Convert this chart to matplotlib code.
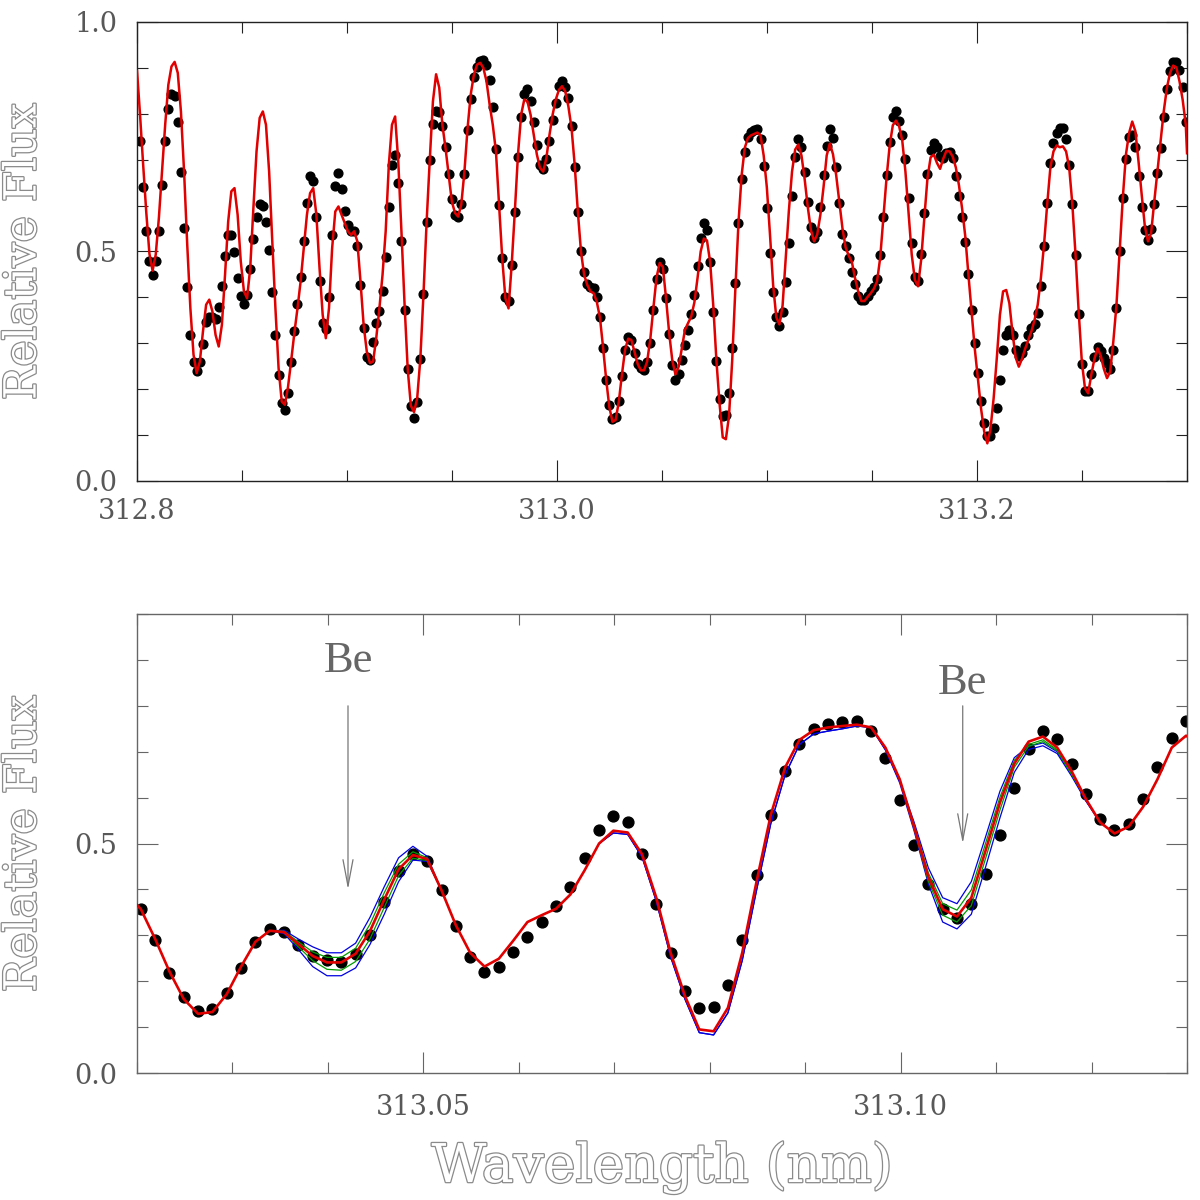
import matplotlib
matplotlib.use("Agg")
import matplotlib.pyplot as plt
import matplotlib.patheffects as pe
from matplotlib.ticker import MultipleLocator, FixedLocator

# observed spectrum (black dots), wavelength in nm
wave = [
    312.8014, 312.8029, 312.8044, 312.8059, 312.8074, 312.8089, 312.8104, 312.8119, 312.8134, 312.8149,
    312.8164, 312.8179, 312.8194, 312.8209, 312.8224, 312.8239, 312.8254, 312.8269, 312.8284, 312.8299,
    312.8314, 312.8329, 312.8344, 312.8359, 312.8374, 312.8389, 312.8404, 312.8419, 312.8434, 312.8449,
    312.8464, 312.8479, 312.8494, 312.8509, 312.8524, 312.8539, 312.8554, 312.8569, 312.8584, 312.8599,
    312.8614, 312.8629, 312.8644, 312.8659, 312.8674, 312.8689, 312.8704, 312.8719, 312.8734, 312.8749,
    312.8764, 312.8779, 312.8794, 312.8809, 312.8824, 312.8839, 312.8854, 312.8869, 312.8884, 312.8899,
    312.8914, 312.8929, 312.8944, 312.8959, 312.8974, 312.8989, 312.9004, 312.9019, 312.9034, 312.9049,
    312.9064, 312.9079, 312.9094, 312.9109, 312.9124, 312.9139, 312.9154, 312.9169, 312.9184, 312.9199,
    312.9214, 312.9229, 312.9244, 312.9259, 312.9274, 312.9289, 312.9304, 312.9319, 312.9334, 312.9349,
    312.9364, 312.9379, 312.9394, 312.9409, 312.9424, 312.9439, 312.9454, 312.9469, 312.9484, 312.9499,
    312.9514, 312.9529, 312.9544, 312.9559, 312.9574, 312.9589, 312.9604, 312.9619, 312.9634, 312.9649,
    312.9664, 312.9679, 312.9694, 312.9709, 312.9724, 312.9739, 312.9754, 312.9769, 312.9784, 312.9799,
    312.9814, 312.9829, 312.9844, 312.9859, 312.9874, 312.9889, 312.9904, 312.9919, 312.9934, 312.9949,
    312.9964, 312.9979, 312.9994, 313.0009, 313.0024, 313.0039, 313.0054, 313.0069, 313.0084, 313.0099,
    313.0114, 313.0129, 313.0144, 313.0159, 313.0174, 313.0189, 313.0204, 313.0219, 313.0234, 313.0249,
    313.0264, 313.0279, 313.0294, 313.0309, 313.0324, 313.0339, 313.0354, 313.0369, 313.0384, 313.0399,
    313.0414, 313.0429, 313.0444, 313.0459, 313.0474, 313.0489, 313.0504, 313.0519, 313.0534, 313.0549,
    313.0564, 313.0579, 313.0594, 313.0609, 313.0624, 313.0639, 313.0654, 313.0669, 313.0684, 313.0699,
    313.0714, 313.0729, 313.0744, 313.0759, 313.0774, 313.0789, 313.0804, 313.0819, 313.0834, 313.0849,
    313.0864, 313.0879, 313.0894, 313.0909, 313.0924, 313.0939, 313.0954, 313.0969, 313.0984, 313.0999,
    313.1014, 313.1029, 313.1044, 313.1059, 313.1074, 313.1089, 313.1104, 313.1119, 313.1134, 313.1149,
    313.1164, 313.1179, 313.1194, 313.1209, 313.1224, 313.1239, 313.1254, 313.1269, 313.1284, 313.1299,
    313.1314, 313.1329, 313.1344, 313.1359, 313.1374, 313.1389, 313.1404, 313.1419, 313.1434, 313.1449,
    313.1464, 313.1479, 313.1494, 313.1509, 313.1524, 313.1539, 313.1554, 313.1569, 313.1584, 313.1599,
    313.1614, 313.1629, 313.1644, 313.1659, 313.1674, 313.1689, 313.1704, 313.1719, 313.1734, 313.1749,
    313.1764, 313.1779, 313.1794, 313.1809, 313.1824, 313.1839, 313.1854, 313.1869, 313.1884, 313.1899,
    313.1914, 313.1929, 313.1944, 313.1959, 313.1974, 313.1989, 313.2004, 313.2019, 313.2034, 313.2049,
    313.2064, 313.2079, 313.2094, 313.2109, 313.2124, 313.2139, 313.2154, 313.2169, 313.2184, 313.2199,
    313.2214, 313.2229, 313.2244, 313.2259, 313.2274, 313.2289, 313.2304, 313.2319, 313.2334, 313.2349,
    313.2364, 313.2379, 313.2394, 313.2409, 313.2424, 313.2439, 313.2454, 313.2469, 313.2484, 313.2499,
    313.2514, 313.2529, 313.2544, 313.2559, 313.2574, 313.2589, 313.2604, 313.2619, 313.2634, 313.2649,
    313.2664, 313.2679, 313.2694, 313.2709, 313.2724, 313.2739, 313.2754, 313.2769, 313.2784, 313.2799,
    313.2814, 313.2829, 313.2844, 313.2859, 313.2874, 313.2889, 313.2904, 313.2919, 313.2934, 313.2949,
    313.2964, 313.2979, 313.2994,
]

flux = [
    0.741, 0.640, 0.545, 0.480, 0.448, 0.480, 0.545, 0.644, 0.741, 0.811,
    0.844, 0.838, 0.782, 0.673, 0.551, 0.422, 0.318, 0.259, 0.240, 0.259,
    0.298, 0.347, 0.358, 0.358, 0.353, 0.378, 0.424, 0.491, 0.536, 0.536,
    0.499, 0.442, 0.404, 0.385, 0.406, 0.462, 0.528, 0.574, 0.603, 0.598,
    0.564, 0.504, 0.411, 0.318, 0.231, 0.169, 0.155, 0.191, 0.259, 0.327,
    0.385, 0.445, 0.522, 0.605, 0.664, 0.654, 0.576, 0.436, 0.344, 0.331,
    0.400, 0.535, 0.642, 0.670, 0.637, 0.589, 0.557, 0.545, 0.544, 0.511,
    0.427, 0.334, 0.271, 0.264, 0.302, 0.345, 0.371, 0.413, 0.488, 0.597,
    0.689, 0.711, 0.649, 0.523, 0.373, 0.243, 0.164, 0.138, 0.172, 0.266,
    0.407, 0.565, 0.700, 0.778, 0.805, 0.804, 0.773, 0.727, 0.669, 0.615,
    0.580, 0.576, 0.603, 0.669, 0.764, 0.833, 0.879, 0.901, 0.916, 0.918,
    0.906, 0.873, 0.815, 0.724, 0.602, 0.485, 0.400, 0.392, 0.471, 0.586,
    0.706, 0.794, 0.844, 0.855, 0.828, 0.783, 0.731, 0.688, 0.680, 0.702,
    0.741, 0.787, 0.823, 0.860, 0.872, 0.858, 0.834, 0.774, 0.685, 0.587,
    0.500, 0.456, 0.430, 0.422, 0.420, 0.400, 0.358, 0.290, 0.219, 0.166,
    0.135, 0.140, 0.174, 0.228, 0.286, 0.314, 0.307, 0.279, 0.255, 0.247,
    0.242, 0.260, 0.301, 0.372, 0.440, 0.477, 0.461, 0.399, 0.320, 0.253,
    0.221, 0.232, 0.264, 0.296, 0.328, 0.363, 0.406, 0.468, 0.529, 0.561,
    0.546, 0.477, 0.369, 0.262, 0.179, 0.142, 0.143, 0.191, 0.290, 0.432,
    0.563, 0.658, 0.717, 0.750, 0.760, 0.765, 0.767, 0.746, 0.686, 0.595,
    0.496, 0.411, 0.358, 0.338, 0.369, 0.434, 0.518, 0.621, 0.706, 0.746,
    0.728, 0.674, 0.607, 0.554, 0.530, 0.543, 0.597, 0.666, 0.730, 0.767,
    0.747, 0.684, 0.605, 0.538, 0.512, 0.485, 0.456, 0.429, 0.404, 0.394,
    0.394, 0.404, 0.414, 0.422, 0.440, 0.493, 0.575, 0.667, 0.738, 0.792,
    0.807, 0.785, 0.754, 0.702, 0.616, 0.518, 0.445, 0.435, 0.494, 0.584,
    0.669, 0.722, 0.736, 0.727, 0.707, 0.703, 0.714, 0.717, 0.703, 0.664,
    0.620, 0.575, 0.520, 0.451, 0.373, 0.300, 0.235, 0.174, 0.126, 0.097,
    0.097, 0.116, 0.160, 0.220, 0.286, 0.318, 0.329, 0.317, 0.286, 0.273,
    0.278, 0.293, 0.317, 0.333, 0.342, 0.366, 0.424, 0.512, 0.605, 0.693,
    0.736, 0.758, 0.769, 0.770, 0.746, 0.689, 0.603, 0.493, 0.364, 0.255,
    0.196, 0.195, 0.233, 0.271, 0.291, 0.283, 0.267, 0.257, 0.243, 0.286,
    0.376, 0.500, 0.616, 0.702, 0.749, 0.753, 0.727, 0.665, 0.596, 0.547,
    0.525, 0.549, 0.603, 0.670, 0.725, 0.794, 0.855, 0.894, 0.913, 0.913,
    0.896, 0.858, 0.781,
]

# best-fit synthetic spectrum (red), same sampling plus the two panel edges
model = [
    0.800, 0.690, 0.585, 0.495, 0.458, 0.493, 0.573, 0.674, 0.776, 0.863,
    0.903, 0.913, 0.889, 0.805, 0.674, 0.515, 0.376, 0.275, 0.235, 0.260,
    0.326, 0.384, 0.395, 0.369, 0.318, 0.293, 0.340, 0.449, 0.565, 0.631,
    0.638, 0.580, 0.478, 0.413, 0.398, 0.464, 0.594, 0.718, 0.791, 0.805,
    0.776, 0.674, 0.522, 0.376, 0.246, 0.173, 0.166, 0.205, 0.262, 0.322,
    0.376, 0.435, 0.507, 0.580, 0.627, 0.638, 0.580, 0.464, 0.362, 0.311,
    0.376, 0.507, 0.587, 0.598, 0.580, 0.562, 0.544, 0.536, 0.544, 0.522,
    0.435, 0.340, 0.282, 0.257, 0.260, 0.311, 0.376, 0.449, 0.544, 0.689,
    0.776, 0.794, 0.696, 0.544, 0.384, 0.243, 0.164, 0.150, 0.180, 0.266,
    0.407, 0.565, 0.700, 0.827, 0.886, 0.857, 0.776, 0.725, 0.667, 0.609,
    0.584, 0.576, 0.602, 0.674, 0.769, 0.842, 0.885, 0.907, 0.911, 0.900,
    0.871, 0.820, 0.776, 0.718, 0.602, 0.485, 0.398, 0.376, 0.471, 0.587,
    0.711, 0.798, 0.831, 0.827, 0.798, 0.754, 0.711, 0.682, 0.674, 0.703,
    0.754, 0.798, 0.831, 0.852, 0.860, 0.849, 0.816, 0.769, 0.689, 0.587,
    0.500, 0.449, 0.427, 0.413, 0.409, 0.391, 0.357, 0.292, 0.221, 0.161,
    0.129, 0.133, 0.172, 0.232, 0.286, 0.310, 0.307, 0.281, 0.255, 0.241,
    0.241, 0.260, 0.309, 0.378, 0.444, 0.475, 0.466, 0.398, 0.322, 0.262,
    0.232, 0.249, 0.288, 0.329, 0.344, 0.358, 0.389, 0.442, 0.500, 0.528,
    0.524, 0.477, 0.382, 0.262, 0.168, 0.095, 0.091, 0.142, 0.262, 0.417,
    0.563, 0.666, 0.726, 0.747, 0.753, 0.756, 0.759, 0.753, 0.709, 0.640,
    0.537, 0.427, 0.357, 0.341, 0.382, 0.485, 0.589, 0.674, 0.722, 0.733,
    0.709, 0.658, 0.597, 0.546, 0.522, 0.537, 0.580, 0.640, 0.709, 0.735,
    0.712, 0.667, 0.609, 0.551, 0.509, 0.491, 0.477, 0.442, 0.413, 0.392,
    0.392, 0.401, 0.409, 0.419, 0.435, 0.487, 0.573, 0.660, 0.731, 0.775,
    0.785, 0.773, 0.741, 0.674, 0.583, 0.493, 0.438, 0.424, 0.482, 0.573,
    0.660, 0.705, 0.711, 0.693, 0.680, 0.702, 0.719, 0.718, 0.707, 0.683,
    0.644, 0.593, 0.533, 0.449, 0.369, 0.289, 0.224, 0.158, 0.108, 0.082,
    0.113, 0.180, 0.267, 0.362, 0.413, 0.416, 0.387, 0.322, 0.269, 0.249,
    0.266, 0.288, 0.307, 0.326, 0.351, 0.384, 0.442, 0.515, 0.602, 0.682,
    0.718, 0.731, 0.727, 0.729, 0.718, 0.682, 0.602, 0.493, 0.369, 0.260,
    0.202, 0.191, 0.231, 0.266, 0.289, 0.273, 0.244, 0.224, 0.238, 0.304,
    0.384, 0.500, 0.616, 0.711, 0.758, 0.783, 0.762, 0.696, 0.624, 0.555,
    0.522, 0.540, 0.609, 0.674, 0.740, 0.805, 0.856, 0.889, 0.905, 0.901,
    0.871, 0.831, 0.776,
]
model_edge_wave = [312.8000, 313.3000]
model_edge_flux = [0.893, 0.714]

# Be abundance variations around the two Be II lines
wave_a = [313.0339, 313.0354, 313.0369, 313.0384, 313.0399, 313.0414, 313.0429,
          313.0444, 313.0459, 313.0474, 313.0489, 313.0504, 313.0519]
green_hi_a = [0.310, 0.309, 0.286, 0.264, 0.252, 0.252, 0.272, 0.324, 0.393, 0.455, 0.482, 0.469, 0.398]
green_lo_a = [0.310, 0.306, 0.275, 0.245, 0.226, 0.224, 0.243, 0.292, 0.361, 0.430, 0.468, 0.463, 0.398]
blue_hi_a = [0.310, 0.311, 0.292, 0.275, 0.262, 0.262, 0.283, 0.339, 0.406, 0.469, 0.494, 0.472, 0.398]
blue_lo_a = [0.310, 0.304, 0.269, 0.232, 0.212, 0.212, 0.229, 0.280, 0.346, 0.417, 0.464, 0.461, 0.398]

wave_gb = [313.0984, 313.0999, 313.1014, 313.1029, 313.1044, 313.1059, 313.1074, 313.1089,
           313.1104, 313.1119, 313.1134, 313.1149, 313.1164, 313.1179, 313.1194]
green_hi_b = [0.709, 0.640, 0.541, 0.436, 0.369, 0.355, 0.399, 0.501, 0.601, 0.681, 0.716, 0.726, 0.704, 0.653, 0.597]
green_lo_b = [0.709, 0.640, 0.533, 0.418, 0.344, 0.329, 0.365, 0.468, 0.573, 0.666, 0.712, 0.722, 0.702, 0.651, 0.597]

wave_bb = [313.0684, 313.0699, 313.0714, 313.0729, 313.0744, 313.0759, 313.0774, 313.0789, 313.0804,
           313.0819, 313.0834, 313.0849, 313.0864, 313.0879, 313.0894, 313.0909, 313.0924, 313.0939,
           313.0954, 313.0969, 313.0984, 313.0999, 313.1014, 313.1029, 313.1044, 313.1059, 313.1074,
           313.1089, 313.1104, 313.1119, 313.1134, 313.1149, 313.1164, 313.1179, 313.1194, 313.1209]
blue_hi_b = [0.500, 0.523, 0.520, 0.471, 0.374, 0.253, 0.161, 0.088, 0.083, 0.131, 0.245, 0.398,
             0.544, 0.650, 0.716, 0.739, 0.745, 0.750, 0.756, 0.753, 0.704, 0.636, 0.547, 0.447,
             0.382, 0.369, 0.417, 0.515, 0.614, 0.687, 0.712, 0.719, 0.700, 0.651, 0.593, 0.546]
blue_lo_b = [0.500, 0.523, 0.520, 0.471, 0.374, 0.253, 0.161, 0.088, 0.083, 0.131, 0.245, 0.398,
             0.544, 0.650, 0.716, 0.739, 0.745, 0.750, 0.756, 0.753, 0.704, 0.632, 0.528, 0.412,
             0.329, 0.314, 0.346, 0.449, 0.556, 0.655, 0.705, 0.713, 0.696, 0.647, 0.593, 0.546]

be_lines = [313.0421, 313.1065]
be_text_y = [0.898, 0.849]
be_arrow_top = [0.80, 0.80]
be_arrow_tip = [0.40, 0.50]

red = '#e00000'
green = '#009a00'
blue = '#0000e0'

plt.rcParams['font.family'] = ['DejaVu Serif']

model_wave = [model_edge_wave[0]] + wave + [model_edge_wave[1]]
model_flux = [model_edge_flux[0]] + model + [model_edge_flux[1]]

fig = plt.figure(figsize=(12, 12), dpi=100)
ax1 = fig.add_axes([0.1142, 0.5992, 0.875, 0.3825])
ax2 = fig.add_axes([0.1142, 0.1058, 0.875, 0.3825])


def hollow(size):
    return dict(fontsize=size, color='white',
                path_effects=[pe.Stroke(linewidth=1.8, foreground='#8a8a8a'), pe.Normal()])


def style(ax, edge, xpad):
    for s in ax.spines.values():
        s.set_color(edge)
        s.set_linewidth(1.0)
    ax.tick_params(which='both', direction='in', top=True, right=True,
                   color=edge, labelcolor='#585858', labelsize=19.5, width=0.8)
    ax.tick_params(which='major', length=15)
    ax.tick_params(which='minor', length=8)
    ax.tick_params(axis='y', pad=14)
    ax.tick_params(axis='x', pad=xpad)
    ax.set_ylabel('Relative Flux', **hollow(32))
    ax.yaxis.set_label_coords(-0.1086, 0.5)
    ax.yaxis.label.set_va('center')


# top panel: whole region
ax1.plot(wave, flux, 'o', color='black', ms=6.3, zorder=2)
ax1.plot(model_wave, model_flux, color=red, lw=1.8, zorder=3)
ax1.set_xlim(312.8, 313.3)
ax1.set_ylim(0.0, 1.0)
ax1.xaxis.set_major_locator(FixedLocator([312.8, 313.0, 313.2]))
ax1.xaxis.set_minor_locator(MultipleLocator(0.05))
ax1.set_xticklabels(['312.8', '313.0', '313.2'])
ax1.yaxis.set_major_locator(FixedLocator([0.0, 0.5, 1.0]))
ax1.yaxis.set_minor_locator(MultipleLocator(0.1))
ax1.set_yticklabels(['0.0', '0.5', '1.0'])
style(ax1, '#222222', 12)

# bottom panel: zoom on the Be II doublet
ax2.plot(wave, flux, 'o', color='black', ms=7.8, zorder=2)
ax2.plot(wave_bb, blue_hi_b, color=blue, lw=0.9, zorder=3)
ax2.plot(wave_bb, blue_lo_b, color=blue, lw=0.9, zorder=3)
ax2.plot(wave_a, blue_hi_a, color=blue, lw=0.9, zorder=3)
ax2.plot(wave_a, blue_lo_a, color=blue, lw=0.9, zorder=3)
ax2.plot(wave_a, green_hi_a, color=green, lw=0.9, zorder=3)
ax2.plot(wave_a, green_lo_a, color=green, lw=0.9, zorder=3)
ax2.plot(wave_gb, green_hi_b, color=green, lw=0.9, zorder=3)
ax2.plot(wave_gb, green_lo_b, color=green, lw=0.9, zorder=3)
ax2.plot(model_wave, model_flux, color=red, lw=1.9, zorder=4)
ax2.set_xlim(313.02, 313.13)
ax2.set_ylim(0.0, 1.0)
ax2.xaxis.set_major_locator(FixedLocator([313.05, 313.10]))
ax2.xaxis.set_minor_locator(MultipleLocator(0.01))
ax2.set_xticklabels(['313.05', '313.10'])
ax2.yaxis.set_major_locator(FixedLocator([0.0, 0.5]))
ax2.yaxis.set_minor_locator(MultipleLocator(0.1))
ax2.set_yticklabels(['0.0', '0.5'])
style(ax2, '#666666', 15)
ax2.set_xlabel('Wavelength (nm)', **hollow(38.5))
ax2.xaxis.set_label_coords(0.5, -0.207)
ax2.xaxis.label.set_va('center')

for x, ty, top, tip in zip(be_lines, be_text_y, be_arrow_top, be_arrow_tip):
    ax2.text(x, ty, 'Be', ha='center', va='center', fontsize=32,
             family='Liberation Serif', color='#666666')
    ax2.annotate('', xy=(x, tip), xytext=(x, top),
                 arrowprops=dict(arrowstyle='->,head_length=1.9,head_width=0.36',
                                 color='#777777', lw=0.9, shrinkA=0, shrinkB=0))

fig.savefig('out.png', dpi=100)
